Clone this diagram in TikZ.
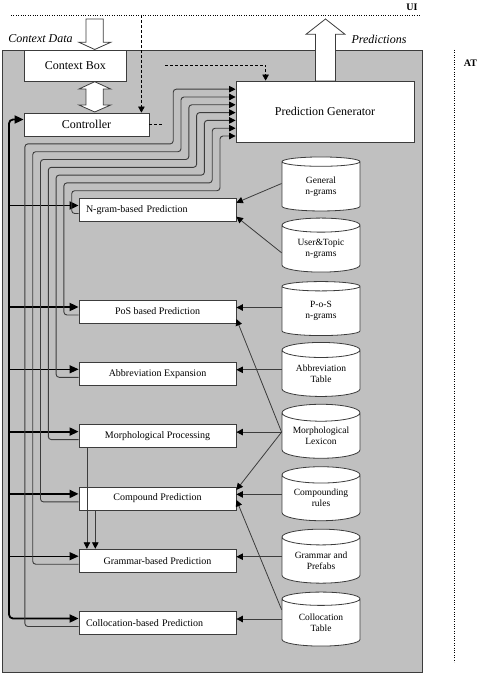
\documentclass[tikz,border=0pt]{standalone}
\usepackage{fontspec}
\setmainfont{Liberation Serif}
\usetikzlibrary{arrows.meta,positioning,shapes.geometric}

\definecolor{panelgray}{HTML}{C0C0C0}
\definecolor{edgegray}{HTML}{3C3C3C}

\tikzset{
  box/.style={rectangle, draw=edgegray, fill=white, line width=0.8pt, inner sep=0pt, font=\fontsize{12}{14}\selectfont},
  module/.style={box, minimum width=157pt, minimum height=23pt, font=\fontsize{10}{12}\selectfont},
  leftmodule/.style={module, text width=143pt, align=left},
  database/.style={cylinder, shape border rotate=90, shape aspect=0.3, draw=edgegray, fill=white, line width=0.8pt,
    minimum width=78pt, minimum height=54pt, inner sep=0pt, align=center, font=\fontsize{9.5}{11}\selectfont},
  headed/.style={-{Triangle[length=6.5pt,width=6.5pt,color=black]}},
  feed/.style={headed, draw=edgegray, line width=0.9pt, rounded corners=3pt},
  busarrow/.style={-{Triangle[length=9pt,width=8pt]}, line width=#1},
  lookup/.style={headed, draw=edgegray, line width=0.8pt},
  cmd/.style={draw=black, line width=0.6pt, dash pattern=on 3pt off 2pt},
  hollow/.style={draw=edgegray, fill=white, line width=0.8pt},
  panelbox/.style={draw=edgegray, fill=panelgray, line width=0.8pt},
  layer/.style={font=\bfseries\fontsize{10}{12}\selectfont},
  flowlabel/.style={font=\itshape\fontsize{12}{14}\selectfont}
}

\begin{document}
\begin{tikzpicture}[x=1pt, y=-1pt, node distance=62.3pt]
  \useasboundingbox (0,0) rectangle (487,674);

  % layers
  \draw[panelbox] (2,50) rectangle (422,672);
  \coordinate (ui-l) at (11,15);
  \coordinate (ui-r) at (421,15);
  \draw[dotted] (ui-l) -- (ui-r);
  \draw[dotted] (454,50) -- (454,662);
  \node (uilabel) [layer] at (412,7) {UI};
  \node (atlabel) [layer] at (470.5,63) {AT};
  \node (ctxdata) [flowlabel] at (40.5,39) {Context Data};
  \node (preds) [flowlabel] at (379,39) {Predictions};

  % hollow arrows
  \draw[hollow] (86,19) -- (103.3,19) -- (103.3,42.3) -- (110.7,42.3) -- (94.7,49.5)
    -- (79,42.3) -- (86,42.3) -- cycle;
  \draw[hollow] (94.7,81.7) -- (110.7,89) -- (103.3,89) -- (103.3,105) -- (110.7,105)
    -- (94.7,112) -- (79,105) -- (86,105) -- (86,89) -- (79,89) -- cycle;
  \draw[hollow] (315.5,81) -- (315.5,34.3) -- (306,34.3) -- (325.5,19) -- (345,34.3)
    -- (335.5,34.3) -- (335.5,81) -- cycle;

  % main boxes
  \node (ctx) [box, minimum width=102.7pt, minimum height=31pt] at (75.3,65.5) {Context Box};
  \node (ctrl) [box, minimum width=125pt, minimum height=23pt] at (86.5,124.5) {Controller};
  \node (pg) [box, minimum width=178pt, minimum height=61pt] at (325,111.5) {Prediction Generator};

  % prediction modules
  \node (ngram) [leftmodule] at (157.5,210) {N-gram-based Prediction};
  \node (pos) [module, below of=ngram, yshift=-39.2pt] {PoS based Prediction};
  \node (abbr) [module, below of=pos] {Abbreviation Expansion};
  \node (morph) [module, below of=abbr] {Morphological Processing};
  \node (comp) [module, below of=morph] {Compound Prediction};
  \node (gram) [module, below of=comp] {Grammar-based Prediction};
  \node (coll) [leftmodule, below of=gram] {Collocation-based Prediction};

  % resources
  \node (gendb) [database] at (321,186.5) {General\\n-grams};
  \node (userdb) [database, below of=gendb] {User\&Topic\\n-grams};
  \node (posdb) [database, below of=userdb] {P-o-S\\n-grams};
  \node (abbrdb) [database, below of=posdb] {Abbreviation\\Table};
  \node (lexdb) [database, below of=abbrdb] {Morphological\\Lexicon};
  \node (compdb) [database, below of=lexdb] {Compounding\\rules};
  \node (gramdb) [database, below of=compdb] {Grammar and\\Prefabs};
  \node (colldb) [database, below of=gramdb] {Collocation\\Table};

  \foreach \m in {ngram,pos,abbr,morph,comp,gram,coll} {
    \coordinate (\m-in) at ([yshift=4.5pt]\m.west);
    \coordinate (\m-out) at ([yshift=-3.5pt]\m.west);
    \coordinate (\m-db) at ([yshift=4pt]\m.east);
  }

  % controller bus
  \coordinate (bus) at (9,0);
  \coordinate (ctrl-in) at ([yshift=5pt]ctrl.west);
  \draw[line width=1.8pt, rounded corners=4pt, {Triangle[length=9pt,width=8pt]}-{Triangle[length=9pt,width=8pt]}]
    (ctrl-in) -| (bus |- coll-in) -- (coll-in);
  \foreach \m/\w in {ngram/1.8,pos/1.8,abbr/1,morph/1.8,comp/1.8,gram/1}
    \draw[busarrow=\w pt] (bus |- \m-in) -- (\m-in);

  % results back to the generator
  \foreach \m [count=\i from 0] in {ngram,pos,abbr,morph,comp,gram,coll} {
    \pgfmathsetmacro\xa{71.7-7.8*\i}
    \pgfmathsetmacro\yh{190.7-7.8*\i}
    \pgfmathsetmacro\xb{220-7.8*\i}
    \pgfmathsetmacro\ya{136-7.8*\i}
    \draw[feed] (\m-out) -| (\xa,\yh) -| (\xb,\ya) -- (pg.west |- \xb,\ya);
  }

  % resource lookups
  \draw[lookup] ([yshift=3pt]gendb.west) -- ([yshift=7.3pt]ngram.east);
  \draw[lookup] ([yshift=-4pt]userdb.west) -- ([yshift=-6.7pt]ngram.east);
  \foreach \d/\m in {posdb/pos,abbrdb/abbr,lexdb/morph,compdb/comp,gramdb/gram,colldb/coll}
    \draw[lookup] (\d.west |- \m-db) -- (\m-db);
  \draw[lookup] (lexdb.west |- morph-db) -- ([yshift=-7.5pt]pos.east);
  \draw[lookup] (lexdb.west |- morph-db) -- ([yshift=8.5pt]comp.east);
  \draw[lookup] ([yshift=13pt]colldb.west) -- ([yshift=-1.5pt]comp.east);

  % morphology feeds grammar
  \coordinate (morph-dn) at ([xshift=8.3pt]morph.south west);
  \coordinate (comp-dn) at ([xshift=16.7pt]comp.south west);
  \draw[lookup] (morph-dn) -- (morph-dn |- gram.north);
  \draw[lookup] (comp-dn) -- (comp-dn |- gram.north);

  % user commands
  \coordinate (cmd-dn) at ([xshift=-8pt]ctrl.north east);
  \draw[cmd, -{Triangle[length=6pt,width=6.5pt]}] (cmd-dn |- ui-l) -- (cmd-dn);
  \coordinate (cmd-stub) at ([xshift=14pt]ctrl.east);
  \draw[cmd] (ctrl.east) -- (cmd-stub);
  \coordinate (cmd-src) at (165,65);
  \draw[cmd, -{Triangle[length=6pt,width=6.5pt]}] (cmd-src) -| ([xshift=30pt]pg.north west);
\end{tikzpicture}
\end{document}
